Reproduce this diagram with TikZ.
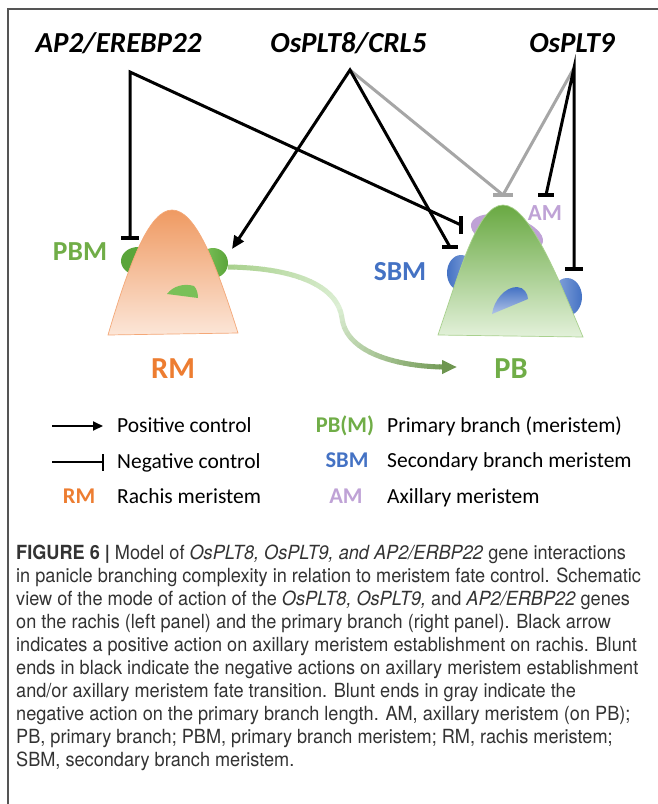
\documentclass[tikz,border=0pt]{standalone}
\usepackage{fontspec}
\setmainfont{Carlito}
\newfontfamily\capfont[FakeStretch=0.93]{TeX Gyre Heros}
\usetikzlibrary{arrows.meta}
\definecolor{rmorange}{HTML}{ED7D31}
\definecolor{pbgreen}{HTML}{70AD47}
\definecolor{sbmblue}{HTML}{4472C4}
\definecolor{sbmlight}{HTML}{8EAADC}
\definecolor{ampurple}{HTML}{BFA2D6}
\definecolor{graylink}{HTML}{A6A6A6}
\definecolor{frameg}{HTML}{555555}
\definecolor{captext}{HTML}{333333}
\definecolor{rmtop}{HTML}{EF9A62}
\definecolor{rmbot}{HTML}{FCE6D8}
\definecolor{rmedge}{HTML}{F4A878}
\definecolor{pbtop}{HTML}{69A942}
\definecolor{pbbot}{HTML}{E3F1DA}
\definecolor{pbedge}{HTML}{A9D18E}
\definecolor{blobdark}{HTML}{5AA53A}
\definecolor{bloblight}{HTML}{82C65F}
\definecolor{gA}{HTML}{A9D18E}
\definecolor{gB}{HTML}{DDEFD5}
\definecolor{gC}{HTML}{6E9650}
\begin{document}
\begin{tikzpicture}[x=1pt,y=-1pt,
  gene/.style={font=\bfseries\itshape\fontsize{29}{34}\selectfont, inner sep=0pt, anchor=base},
  lab/.style={font=\bfseries\fontsize{27.5}{32}\selectfont, inner sep=0pt, anchor=base},
  lgtext/.style={font=\fontsize{21.5}{26}\selectfont, inner sep=0pt, anchor=base west},
  lglab/.style={font=\bfseries\fontsize{22.5}{26}\selectfont, inner sep=0pt, anchor=base},
  captxt/.style={font=\capfont\fontsize{19.5}{24}\selectfont, text=captext, inner sep=0pt, anchor=base west},
  link/.style={line width=3pt, black, line join=miter},
  glink/.style={line width=3pt, graylink},
  barb/.style={line width=3.5pt, black},
  barg/.style={line width=4pt, graylink}]
\useasboundingbox (0,0) rectangle (657,804);
\fill[white] (0,0) rectangle (657,804);
\draw[frameg, line width=1.2pt] (8,830) -- (8,9) -- (700,9);

% gene labels
\node[gene] (ap2) at (118.5,52) {AP2/EREBP22};
\node[gene] (plt8) at (348.5,52) {OsPLT8/CRL5};
\node[gene] (plt9) at (572,52) {OsPLT9};

% ---- RM (rachis) ----
\fill[blobdark] (138,261) ellipse [x radius=17, y radius=14];
\shade[left color=bloblight, right color=blobdark] (213,263) ellipse [x radius=15, y radius=15];
\shadedraw[top color=rmtop, bottom color=rmbot, draw=rmedge, line width=0.7pt]
  (108,335) .. controls (130,260) and (150,210) .. (172,210)
  .. controls (195,210) and (215,260) .. (238,333) -- cycle;
\fill[bloblight!80!blobdark] (167,294) .. controls (173,286) and (184,283) .. (194,286)
  .. controls (197,289) and (198,294) .. (198,298) -- cycle;

% ---- PB (primary branch) ----
\fill[ampurple, rotate around={-15:(507,233)}] (507,233) ellipse [x radius=37, y radius=17];
\shade[left color=sbmblue, right color=sbmlight] (461,273) ellipse [x radius=14, y radius=18];
\shade[left color=sbmlight, right color=sbmblue] (567,297) ellipse [x radius=15, y radius=19];
\shadedraw[top color=pbtop, bottom color=pbbot, draw=pbedge, line width=0.7pt]
  (438,335) .. controls (460,270) and (478,205) .. (503,205)
  .. controls (528,205) and (555,270) .. (583,337) -- cycle;
\shade[top color=sbmblue, bottom color=sbmlight!70]
  (492,314) .. controls (494,300) and (505,287) .. (517,287)
  .. controls (524,287) and (528,294) .. (528,299) -- cycle;

% labels of the panels
\node[lab, text=pbgreen] (pbm) at (80,260) {PBM};
\node[lab, text=sbmblue] (sbm) at (400,280) {SBM};
\node[font=\bfseries\fontsize{23}{27}\selectfont, inner sep=0pt, anchor=base, text=ampurple] (am) at (545,220) {AM};
\node[font=\bfseries\fontsize{30.5}{34}\selectfont, inner sep=0pt, anchor=base, text=rmorange] (rm) at (173,378) {RM};
\node[font=\bfseries\fontsize{30.5}{34}\selectfont, inner sep=0pt, anchor=base, text=pbgreen] (pb) at (511,378) {PB};

% green transition arrow
\coordinate (gs) at (228,267);
\coordinate (gm) at (342,318);
\coordinate (ge) at (442,367);
\coordinate (gt) at (457,367);
\foreach \i in {0,...,46}{
  \pgfmathsetmacro{\s}{\i*6}
  \pgfmathtruncatemacro{\pa}{max(0,min(100,100*(1-\s/120)))}
  \pgfmathtruncatemacro{\pb}{max(0,min(100,100*(1-(\s-120)/140)))}
  \ifdim\s pt<120pt \colorlet{segc}{gA!\pa!gB}\else\colorlet{segc}{gB!\pb!gC}\fi
  \draw[line width=5pt, segc, dash pattern=on 0pt off \s pt on 6.6pt off 2000pt]
    (gs) .. controls (300,268) and (338,288) .. (gm) .. controls (346,352) and (395,366) .. (ge);
}
\draw[line width=5pt, gC, -{Triangle[length=15pt,width=13pt]}] (ge) -- (gt);

% regulation links
\coordinate (ap2o) at (130,72);
\coordinate (plt8o) at (350,70);
\coordinate (plt9o) at (574,68);
\coordinate (bPBM) at (130,238);
\coordinate (bPBa) at (461,225);
\coordinate (tipRM) at (232,249);
\coordinate (bSBM) at (450,247);
\coordinate (bTop) at (503,195);
\coordinate (bAM) at (546,195);
\coordinate (bSBM2) at (574,269);

\draw[glink] (plt8o) -- (bTop);
\draw[glink] (plt9o) -- (bTop);
\draw[barg] ([xshift=-10pt]bTop) -- ([xshift=10pt]bTop);

\draw[link] (bPBM) -- (ap2o) -- (bPBa);
\draw[link, {Triangle[length=13pt,width=11pt]}-] (tipRM) -- (plt8o) -- (bSBM);
\draw[link] (bAM) -- (plt9o) -- (bSBM2);

\draw[barb] ([xshift=-9pt]bPBM) -- ([xshift=9pt]bPBM);
\draw[barb] ([yshift=-9pt]bPBa) -- ([yshift=9pt]bPBa);
\draw[barb] ([xshift=-8pt]bSBM) -- ([xshift=8pt]bSBM);
\draw[barb] ([xshift=-8pt]bAM) -- ([xshift=8pt]bAM);
\draw[barb] ([xshift=-9pt]bSBM2) -- ([xshift=9pt]bSBM2);

% legend
\coordinate (l1a) at (52,426); \coordinate (l1b) at (103,426);
\coordinate (l2a) at (52,462); \coordinate (l2b) at (103,462);
\draw[line width=2pt, -{Triangle[length=10pt,width=9pt]}] (l1a) -- (l1b);
\draw[line width=2pt] (l2a) -- (l2b);
\draw[line width=2pt] ([yshift=-8.5pt]l2b) -- ([yshift=8.5pt]l2b);
\node[lgtext] (pos) at (117,432) {Positive control};
\node[lgtext] (neg) at (117,468) {Negative control};
\node[lglab, text=rmorange] (lrm) at (79,503) {RM};
\node[lgtext] (rach) at (117,503) {Rachis meristem};
\node[lglab, text=pbgreen] (lpb) at (345,432) {PB(M)};
\node[lgtext] (prim) at (387,432) {Primary branch (meristem)};
\node[lglab, text=sbmblue] (lsbm) at (347,467) {SBM};
\node[lgtext] (sec) at (387,467) {Secondary branch meristem};
\node[lglab, text=ampurple] (lam) at (346,503) {AM};
\node[lgtext] (axi) at (387,503) {Axillary meristem};

% caption
\node[captxt] (c1) at (16,559) {\textbf{FIGURE 6 |} Model of \textit{OsPLT8, OsPLT9, and AP2/ERBP22} gene interactions};
\node[captxt] (c2) at (16,582) {in panicle branching complexity in relation to meristem fate control. Schematic};
\node[captxt] (c3) at (16,605) {view of the mode of action of the \textit{OsPLT8, OsPLT9,} and \textit{AP2/ERBP22} genes};
\node[captxt] (c4) at (16,628) {on the rachis (left panel) and the primary branch (right panel). Black arrow};
\node[captxt] (c5) at (16,651) {indicates a positive action on axillary meristem establishment on rachis. Blunt};
\node[captxt] (c6) at (16,674) {ends in black indicate the negative actions on axillary meristem establishment};
\node[captxt] (c7) at (16,697) {and/or axillary meristem fate transition. Blunt ends in gray indicate the};
\node[captxt] (c8) at (16,720) {negative action on the primary branch length. AM, axillary meristem (on PB);};
\node[captxt] (c9) at (16,743) {PB, primary branch; PBM, primary branch meristem; RM, rachis meristem;};
\node[captxt] (c10) at (16,766) {SBM, secondary branch meristem.};
\end{tikzpicture}
\end{document}
